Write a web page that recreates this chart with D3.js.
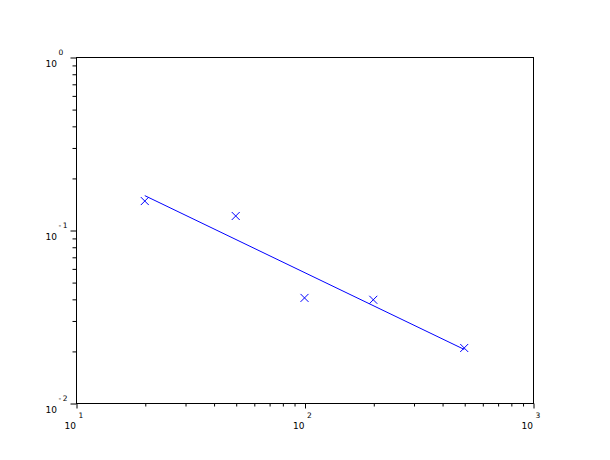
<!DOCTYPE html>
<html>
<head>
<meta charset="utf-8">
<script src="https://cdn.jsdelivr.net/npm/d3@7"></script>
<style>
  body { margin: 0; background: #fff; }
  svg { display: block; }
  text { font-family: "DejaVu Sans", sans-serif; fill: #000; }
</style>
</head>
<body>
<svg id="chart" width="610" height="460"></svg>
<script>
// measured points
var sampleX = [20, 50, 100, 200, 500];
var sampleY = [0.147, 0.1205, 0.0405, 0.0395, 0.0208];

// fitted power law, drawn between the end samples
var fitX = [20, 500];
var fitY = [0.158, 0.0204];

var xDecades = [1, 2, 3];     // 10^1 .. 10^3
var yDecades = [0, -1, -2];   // 10^0 .. 10^-2

var svg = d3.select("#chart");
var width = 610,
    height = 460;

var margin = {
    left: 76,
    right: 77,
    top: 57,
    bottom: 57
};

var xScale = d3.scaleLog()
    .domain([10, 1000])
    .range([margin.left, width - margin.right]);

var yScale = d3.scaleLog()
    .domain([0.01, 1])
    .range([height - margin.bottom, margin.top]);

var blue = "#0000ff";

// minor tick values: 2..9 in each decade
var minorTicks = function (scale) {
    var out = [];
    var dom = scale.domain();
    var lo = Math.round(Math.log10(dom[0])),
        hi = Math.round(Math.log10(dom[1]));
    for (var e = lo; e < hi; e++) {
        for (var m = 2; m <= 9; m++) {
            out.push(m * Math.pow(10, e));
        }
    }
    return out;
};

// frame around the plot area
svg.append("rect")
    .attr("x", margin.left + 0.5)
    .attr("y", margin.top + 0.5)
    .attr("width", width - margin.left - margin.right)
    .attr("height", height - margin.top - margin.bottom)
    .attr("fill", "none")
    .attr("stroke", "#000")
    .attr("stroke-width", 1);

// x axis: minor then major ticks
var xAxisY = height - margin.bottom + 0.5;
svg.append("g")
    .attr("transform", "translate(0.5," + xAxisY + ")")
    .call(d3.axisBottom(xScale).tickValues(minorTicks(xScale)).tickSize(3).tickSizeOuter(0).tickFormat(""))
    .call(g => g.select(".domain").remove());
svg.append("g")
    .attr("transform", "translate(0.5," + xAxisY + ")")
    .call(d3.axisBottom(xScale).tickValues(xDecades.map(e => Math.pow(10, e))).tickSize(5).tickSizeOuter(0).tickFormat(""))
    .call(g => g.select(".domain").remove());

// y axis
var yAxisX = margin.left + 0.5;
svg.append("g")
    .attr("transform", "translate(" + yAxisX + ",0.5)")
    .call(d3.axisLeft(yScale).tickValues(minorTicks(yScale)).tickSize(4).tickSizeOuter(0).tickFormat(""))
    .call(g => g.select(".domain").remove());
svg.append("g")
    .attr("transform", "translate(" + yAxisX + ",0.5)")
    .call(d3.axisLeft(yScale).tickValues(yDecades.map(e => Math.pow(10, e))).tickSize(6).tickSizeOuter(0).tickFormat(""))
    .call(g => g.select(".domain").remove());

svg.selectAll(".tick line").attr("stroke", "#000");

// x tick labels: 10 with superscript exponent
var xLabels = svg.append("g").selectAll("g")
    .data(xDecades)
    .enter()
    .append("g");
xLabels.append("text")
    .text("10")
    .attr("text-anchor", "end")
    .attr("font-size", "9px")
    .attr("x", d => xScale(Math.pow(10, d)))
    .attr("y", height - margin.bottom + 26);
xLabels.append("text")
    .text(d => d)
    .attr("font-size", "7.5px")
    .attr("x", d => xScale(Math.pow(10, d)) + 2.5)
    .attr("y", height - margin.bottom + 15);

// y tick labels
var yLabels = svg.append("g").selectAll("g")
    .data(yDecades)
    .enter()
    .append("g");
yLabels.append("text")
    .text("10")
    .attr("text-anchor", "end")
    .attr("font-size", "9px")
    .attr("x", margin.left - 19)
    .attr("y", d => yScale(Math.pow(10, d)) + 10);
yLabels.append("text")
    .text(d => d < 0 ? "-\u2009" + (-d) : d)
    .attr("font-size", "7.5px")
    .attr("x", margin.left - 17.5)
    .attr("y", d => yScale(Math.pow(10, d)) - 2);

// fitted line
var fitData = fitX.map((x, i) => ({ x: x, y: fitY[i] }));
svg.append("path")
    .datum(fitData)
    .attr("d", d3.line().x(d => xScale(d.x)).y(d => yScale(d.y)))
    .attr("fill", "none")
    .attr("stroke", blue)
    .attr("stroke-width", 1);

// sample markers (crosses)
var sampleData = sampleX.map((x, i) => ({ x: x, y: sampleY[i] }));
var r = 4;
svg.append("g").selectAll("path")
    .data(sampleData)
    .enter()
    .append("path")
    .attr("d", function (d) {
        var cx = xScale(d.x),
            cy = yScale(d.y);
        return "M" + (cx - r) + "," + (cy - r) + "L" + (cx + r) + "," + (cy + r) +
            "M" + (cx - r) + "," + (cy + r) + "L" + (cx + r) + "," + (cy - r);
    })
    .attr("fill", "none")
    .attr("stroke", blue)
    .attr("stroke-width", 1);
</script>
</body>
</html>
